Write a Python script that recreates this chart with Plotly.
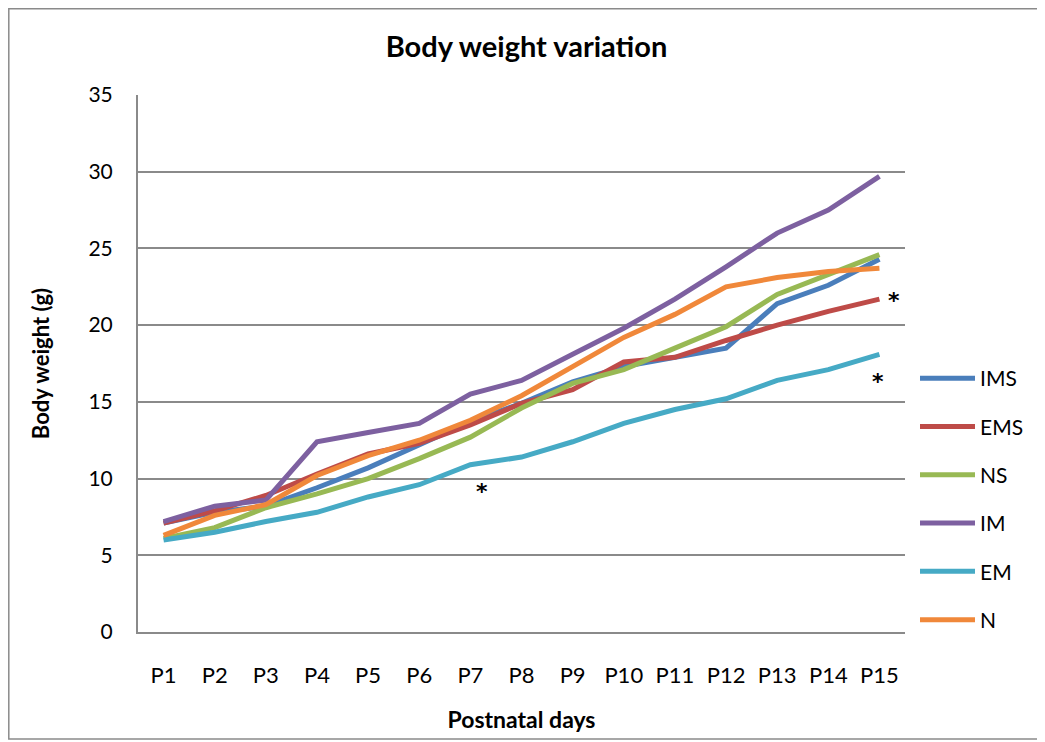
import plotly.graph_objects as go

days = ["P1", "P2", "P3", "P4", "P5", "P6", "P7", "P8", "P9", "P10", "P11", "P12", "P13", "P14", "P15"]

IMS = [7.1, 7.8, 8.2, 9.4, 10.7, 12.2, 13.7, 14.9, 16.3, 17.3, 17.9, 18.5, 21.4, 22.6, 24.3]
EMS = [7.1, 7.9, 8.9, 10.3, 11.6, 12.3, 13.5, 14.9, 15.8, 17.6, 17.9, 19.0, 20.0, 20.9, 21.7]
NS = [6.1, 6.8, 8.1, 9.0, 10.0, 11.3, 12.7, 14.6, 16.2, 17.1, 18.5, 19.9, 22.0, 23.3, 24.6]
IM = [7.2, 8.2, 8.6, 12.4, 13.0, 13.6, 15.5, 16.4, 18.1, 19.8, 21.7, 23.8, 26.0, 27.5, 29.7]
EM = [6.0, 6.5, 7.2, 7.8, 8.8, 9.6, 10.9, 11.4, 12.4, 13.6, 14.5, 15.2, 16.4, 17.1, 18.1]
N = [6.3, 7.6, 8.3, 10.2, 11.5, 12.5, 13.8, 15.4, 17.3, 19.2, 20.7, 22.5, 23.1, 23.5, 23.7]

series_names = ["IMS", "EMS", "NS", "IM", "EM", "N"]
series_values = [IMS, EMS, NS, IM, EM, N]
colors = ["#4A7EBB", "#BE4B48", "#98B954", "#7D60A0", "#46AAC5", "#F0883A"]

# significance markers: (category, value, x shift px)
star_days = ["P7", "P15", "P15"]
star_values = [9.4, 21.85, 16.6]
star_shift = [12, 15, -1]

FONT = "Lato"

fig = go.Figure()
for i, (name, vals) in enumerate(zip(series_names, series_values)):
    fig.add_trace(go.Scatter(
        x=days, y=vals, name=name, mode="lines",
        line=dict(color=colors[i], width=5),
        legendgroup=name,
    ))

for d, v, s in zip(star_days, star_values, star_shift):
    fig.add_annotation(x=d, y=v, text="<b>*</b>", showarrow=False, xshift=s, yshift=-4,
                       font=dict(family="DejaVu Sans", size=22, color="black"))

# figure is placed 8px into the page by the browser body margin
W, H = 1037, 734
l, r, t, b = 130, 140, 87, 110
pw, ph = W - l - r, H - t - b
fig.add_shape(type="rect", xref="paper", yref="paper",
              x0=(0.8 - l) / pw, x1=(1032 - l) / pw,
              y0=(H - b - 731) / ph, y1=(H - b - 0.8) / ph,
              line=dict(color="#8a8a8a", width=1.5), layer="below")

fig.update_layout(
    width=W, height=H,
    margin=dict(l=l, r=r, t=t, b=b),
    paper_bgcolor="white", plot_bgcolor="white",
    font=dict(family=FONT, size=21, color="black"),
    title=dict(text="<b>Body weight variation</b>", x=0.5, xref="container",
               y=(H - 39) / H, yanchor="middle", font=dict(size=29)),
    showlegend=True,
    legend=dict(x=(907 - l) / pw, xanchor="left", y=(H - b - 491) / ph, yanchor="middle",
                font=dict(size=21), itemwidth=55, tracegroupgap=18,
                bgcolor="rgba(0,0,0,0)"),
    xaxis=dict(type="category", range=[-0.5, 14.5], showgrid=False,
               showline=True, linecolor="#8a8a8a", linewidth=2, mirror=False,
               ticks="", ticklabelstandoff=23, tickfont=dict(size=22),
               title=dict(text="<b>Postnatal days</b>", standoff=24, font=dict(size=23))),
    yaxis=dict(range=[0, 35], dtick=5, showgrid=True, gridcolor="#8a8a8a", gridwidth=2,
               showline=True, linecolor="#8a8a8a", linewidth=2, zeroline=False,
               ticks="", ticklabelstandoff=19,
               title=dict(text="<b>Body weight (g)</b>", standoff=33, font=dict(size=22))),
)

fig.write_html("out.html")
